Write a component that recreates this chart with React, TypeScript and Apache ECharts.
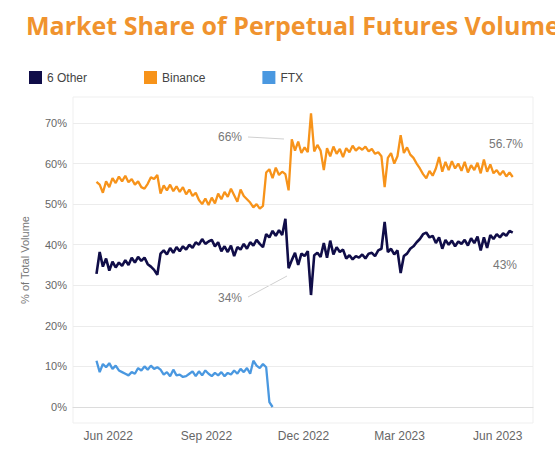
import { useEffect, useRef } from 'react';
import * as echarts from 'echarts';

// one point every 3 days, starting 21 May 2022
const startDate = Date.UTC(2022, 4, 21);
const stepDays = 3;

const otherShare = [
  32.8, 38.2, 34.6, 36.6, 33.6, 35.8, 34.4, 35.6, 34.8, 36.2,
  35.0, 36.8, 35.6, 37.0, 36.0, 36.8, 35.2, 34.6, 33.8, 32.6,
  37.8, 38.6, 37.6, 39.2, 38.0, 39.4, 38.4, 39.6, 38.8, 40.0,
  39.2, 40.6, 40.0, 41.4, 40.2, 40.8, 41.2, 39.6, 40.6, 38.4,
  39.6, 38.2, 39.8, 37.2, 39.4, 38.8, 40.2, 39.0, 40.6, 39.8,
  41.2, 40.2, 39.4, 42.6, 41.8, 43.4, 42.2, 43.6, 42.4, 46.4,
  34.2, 36.2, 38.0, 35.0, 37.8, 37.2, 38.4, 27.6, 37.4, 38.0,
  37.0, 40.4, 36.8, 41.0, 37.6, 39.4, 38.2, 38.8, 36.6, 37.4,
  36.4, 37.2, 36.8, 37.6, 36.6, 37.8, 38.0, 37.2, 38.6, 39.0,
  45.6, 38.2, 39.0, 37.6, 38.6, 33.0, 37.2, 37.8, 39.0, 39.6,
  40.6, 41.4, 42.6, 43.0, 41.8, 42.2, 40.4, 41.8, 39.0, 41.2,
  40.0, 41.0, 39.6, 40.8, 40.2, 41.2, 39.8, 41.6, 40.4, 42.0,
  38.6, 41.8, 39.2, 42.4, 41.4, 42.6, 41.8, 42.8, 42.2, 43.4,
  43.0,
];

const binanceShare = [
  55.5, 54.8, 52.8, 55.6, 54.2, 56.4, 55.2, 56.8, 55.6, 57.0,
  55.4, 56.2, 54.8, 55.6, 54.2, 53.8, 55.0, 56.6, 56.2, 57.2,
  52.6, 54.6, 53.4, 54.8, 53.2, 54.4, 53.0, 54.2, 52.4, 53.6,
  52.0, 52.8, 51.0, 50.0, 51.4, 49.8, 51.6, 50.2, 52.6, 51.2,
  53.0, 51.8, 53.8, 52.2, 50.6, 53.6, 52.0, 51.2, 50.4, 49.2,
  50.0, 48.9, 49.6, 57.8, 58.6, 56.4, 59.0, 57.2, 58.0, 57.4,
  53.4, 66.0, 63.2, 65.4, 62.6, 64.0, 62.8, 72.4, 63.0, 64.6,
  63.2, 58.4, 63.8, 61.8, 64.2, 62.4, 63.6, 61.6, 63.8, 62.8,
  64.4, 63.2, 64.0, 63.4, 64.2, 63.0, 63.6, 62.4, 62.8, 61.8,
  54.2, 61.4, 62.6, 60.0, 61.8, 67.0, 62.6, 64.0, 62.2, 61.4,
  60.0, 58.8, 57.4, 56.4, 58.2, 57.0, 58.8, 61.6, 58.0, 60.4,
  58.4, 60.6, 58.8, 60.0, 58.2, 60.4, 57.8, 59.6, 58.4, 60.2,
  57.6, 61.0, 58.0, 59.8, 57.6, 58.4, 57.2, 58.2, 56.8, 57.8,
  56.7,
];

const ftxShare = [
  11.4, 8.6, 10.6, 9.8, 10.8, 9.4, 10.2, 9.0, 8.6, 8.2,
  7.8, 8.6, 8.2, 9.6, 9.0, 10.0, 9.2, 10.2, 9.4, 9.8,
  9.2, 8.0, 8.6, 7.6, 9.2, 7.8, 8.0, 7.4, 7.6, 8.2,
  8.8, 7.6, 8.8, 7.8, 9.0, 8.2, 7.6, 8.4, 7.8, 8.6,
  7.6, 8.4, 8.0, 9.0, 8.2, 9.4, 8.6, 9.6, 8.2, 11.4,
  10.2, 9.6, 10.6, 9.8, 1.2, 0,
];

const xTickDates = [
  Date.UTC(2022, 5, 1),
  Date.UTC(2022, 8, 1),
  Date.UTC(2022, 11, 1),
  Date.UTC(2023, 2, 1),
  Date.UTC(2023, 5, 1),
];
const xTickLabels = ['Jun 2022', 'Sep 2022', 'Dec 2022', 'Mar 2023', 'Jun 2023'];

const toPoints = (values: number[]) =>
  values.map((v, i) => [startDate + i * stepDays * 86400000, v]);

const axisFont = 'Liberation Sans, Arial, sans-serif';

export default function App() {
  const chartRef = useRef<HTMLDivElement>(null);
  useEffect(() => {
    if (!chartRef.current) return;
    const chart = echarts.init(chartRef.current, undefined, { renderer: 'svg' });
    chart.setOption({
      animation: false,
      backgroundColor: '#fff',
      title: {
        text: 'Market Share of Perpetual Futures Volume',
        left: 21,
        top: 7,
        textStyle: { color: '#f0932e', fontSize: 25, fontWeight: 'bold', fontFamily: 'Open Sans' },
      },
      legend: {
        left: 24,
        top: 66,
        itemWidth: 13,
        itemHeight: 13,
        itemGap: 57,
        icon: 'rect',
        textStyle: { color: '#444', fontSize: 12, fontFamily: axisFont },
        data: ['6 Other', 'Binance', 'FTX'],
      },
      grid: { left: 73, right: 22, top: 123, bottom: 51 },
      xAxis: {
        type: 'value',
        min: Date.UTC(2022, 3, 29),
        max: Date.UTC(2023, 6, 4),
        axisLine: { show: true, lineStyle: { color: '#dcdcdc' } },
        axisTick: { show: false },
        splitLine: { show: false },
        axisLabel: {
          customValues: xTickDates,
          margin: 23,
          color: '#666',
          fontSize: 12,
          fontFamily: axisFont,
          formatter: (v: number) => {
            const idx = xTickDates.findIndex((d) => Math.abs(d - v) < 86400000);
            return idx >= 0 ? xTickLabels[idx] : '';
          },
        },
      },
      yAxis: {
        type: 'value',
        min: 0,
        max: 70,
        interval: 10,
        axisLine: { show: false },
        axisTick: { show: false },
        splitLine: { lineStyle: { color: '#ececec' } },
        axisLabel: { formatter: '{value}%', color: '#666', fontSize: 11, fontFamily: axisFont, margin: 6 },
      },
      graphic: [
        {
          type: 'rect',
          shape: { x: 73, y: 97, width: 460, height: 326 },
          style: { fill: 'none', stroke: '#efefef', lineWidth: 1 },
          silent: true,
        },
        {
          type: 'text',
          x: 25,
          y: 260,
          rotation: Math.PI / 2,
          style: {
            text: '% of Total Volume',
            fill: '#777',
            font: '11px ' + axisFont,
            align: 'center',
            verticalAlign: 'middle',
          },
        },
        {
          type: 'line',
          shape: { x1: 248, y1: 137, x2: 284, y2: 139 },
          style: { stroke: '#d0d0d0', lineWidth: 1 },
        },
        {
          type: 'line',
          shape: { x1: 248, y1: 297, x2: 287, y2: 276 },
          style: { stroke: '#d0d0d0', lineWidth: 1 },
        },
        {
          type: 'text',
          x: 218,
          y: 137,
          style: { text: '66%', fill: '#777', font: '12px ' + axisFont, verticalAlign: 'middle' },
        },
        {
          type: 'text',
          x: 218,
          y: 298,
          style: { text: '34%', fill: '#777', font: '12px ' + axisFont, verticalAlign: 'middle' },
        },
        {
          type: 'text',
          x: 489,
          y: 144,
          style: { text: '56.7%', fill: '#777', font: '12px ' + axisFont, verticalAlign: 'middle' },
        },
        {
          type: 'text',
          x: 493,
          y: 265,
          style: { text: '43%', fill: '#777', font: '12px ' + axisFont, verticalAlign: 'middle' },
        },
      ],
      series: [
        {
          name: '6 Other',
          type: 'line',
          data: toPoints(otherShare),
          showSymbol: false,
          clip: false,
          itemStyle: { color: '#100d48' },
          lineStyle: { color: '#100d48', width: 2.6 },
        },
        {
          name: 'Binance',
          type: 'line',
          data: toPoints(binanceShare),
          showSymbol: false,
          clip: false,
          itemStyle: { color: '#f7931a' },
          lineStyle: { color: '#f7931a', width: 2.3 },
        },
        {
          name: 'FTX',
          type: 'line',
          data: toPoints(ftxShare),
          showSymbol: false,
          clip: false,
          itemStyle: { color: '#4a98e0' },
          lineStyle: { color: '#4a98e0', width: 2.3 },
        },
      ],
    });
    return () => {
      chart.dispose();
    };
  }, []);
  return (
    <div
      ref={chartRef}
      style={{ position: 'fixed', left: 0, top: 0, width: 555, height: 458 }}
    />
  );
}
